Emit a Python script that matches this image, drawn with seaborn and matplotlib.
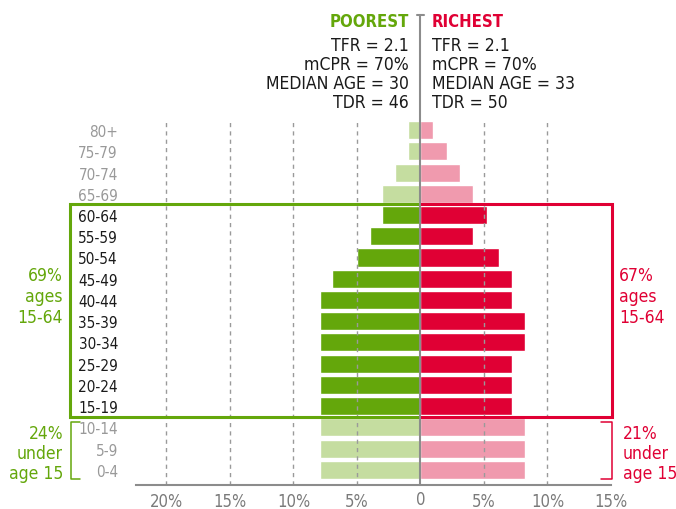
import matplotlib
matplotlib.use("Agg")
import matplotlib.pyplot as plt
import seaborn as sns
import pandas as pd

ages = ["80+", "75-79", "70-74", "65-69", "60-64", "55-59", "50-54", "45-49", "40-44",
        "35-39", "30-34", "25-29", "20-24", "15-19", "10-14", "5-9", "0-4"]
poorest = [1.0, 1.0, 2.0, 3.0, 3.0, 4.0, 5.0, 7.0, 7.9, 7.9, 7.9, 7.9, 7.9, 7.9, 7.9, 7.9, 7.9]
richest = [1.0, 2.1, 3.1, 4.1, 5.2, 4.1, 6.2, 7.2, 7.2, 8.2, 8.2, 7.2, 7.2, 7.2, 8.2, 8.2, 8.2]
faded = ["80+", "75-79", "70-74", "65-69", "10-14", "5-9", "0-4"]

x_ticks = [-20, -15, -10, -5, 0, 5, 10, 15]
x_labels = ["20%", "15%", "10%", "5%", "", "5%", "10%", "15%"]

poor_stats = ["TFR = 2.1", "mCPR = 70%", "MEDIAN AGE = 30", "TDR = 46"]
rich_stats = ["TFR = 2.1", "mCPR = 70%", "MEDIAN AGE = 33", "TDR = 50"]

GREEN, GREEN_L = "#64a70b", "#c5dda0"
RED, RED_L = "#e00034", "#f09aae"
GREY = "#8c8c8c"

sns.set_style("white")
plt.rcParams["font.family"] = ["DejaVu Sans"]
plt.rcParams["font.stretch"] = "condensed"

df = pd.DataFrame({"age": ages, "poorest": [-v for v in poorest], "richest": richest})
pal_p = {a: (GREEN_L if a in faded else GREEN) for a in ages}
pal_r = {a: (RED_L if a in faded else RED) for a in ages}

W, H = 676, 510
fig = plt.figure(figsize=(W / 100, H / 100), dpi=100)
ax = fig.add_axes([136 / W, 24 / H, 475 / W, 366 / H])

sns.barplot(data=df, x="poorest", y="age", hue="age", palette=pal_p, order=ages,
            orient="h", width=0.85, legend=False, ax=ax, saturation=1)
sns.barplot(data=df, x="richest", y="age", hue="age", palette=pal_r, order=ages,
            orient="h", width=0.85, legend=False, ax=ax, saturation=1)

ax.set_xlim(-22.4, 15.0)
ax.set_ylim(16.71, -0.52)
ax.set_xlabel("")
ax.set_ylabel("")

# dashed verticals
for xv in [-20, -15, -10, -5, 5, 10]:
    ax.axvline(xv, color="#9a9a9a", lw=1, ls=(0, (3, 3)), zorder=2.5)

for s in ["top", "left", "right"]:
    ax.spines[s].set_visible(False)
ax.spines["bottom"].set_color(GREY)
ax.spines["bottom"].set_linewidth(1.5)

ax.set_xticks(x_ticks)
ax.set_xticklabels(x_labels)
ax.tick_params(axis="x", length=0, pad=5, labelsize=12, labelcolor="#7a7a7a")
ax.tick_params(axis="y", length=0, pad=13, labelsize=11)
for lbl in ax.get_yticklabels():
    lbl.set_color("#999999" if lbl.get_text() in faded else "#1a1a1a")
    lbl.set_ha("right")

# centre line with cap
ax.plot([0, 0], [16.71, -5.41], color=GREY, lw=1.5, clip_on=False, zorder=4)
ax.plot([-0.3, 0.3], [-5.41, -5.41], color=GREY, lw=1.5, clip_on=False, zorder=4)

# working-age boxes
ax.plot([0, -27.6, -27.6, 0], [3.5, 3.5, 13.5, 13.5], color=GREEN, lw=2.2,
        clip_on=False, zorder=3, solid_joinstyle="miter")
ax.plot([0, 15.1, 15.1, 0], [3.5, 3.5, 13.5, 13.5], color=RED, lw=2.2,
        clip_on=False, zorder=3, solid_joinstyle="miter")

# under-15 brackets
ax.plot([-26.8, -27.5, -27.5, -26.8], [13.75, 13.75, 16.42, 16.42], color=GREEN, lw=1.1,
        clip_on=False)
ax.plot([14.2, 15.05, 15.05, 14.2], [13.75, 13.75, 16.42, 16.42], color=RED, lw=1.1,
        clip_on=False)


def fx(px):
    return px / W


def fy(py):
    return 1 - py / H


fig.text(fx(420.5), 0.002, "0", ha="center", va="bottom", fontsize=12, color="#7a7a7a")

fig.text(fx(63), fy(297), "69%\nages\n15-64", ha="right", va="center", color=GREEN,
         fontsize=12.5, linespacing=1.2)
fig.text(fx(63), fy(454), "24%\nunder\nage 15", ha="right", va="center", color=GREEN,
         fontsize=12.5, linespacing=1.15)
fig.text(fx(619), fy(297), "67%\nages\n15-64", ha="left", va="center", color=RED,
         fontsize=12.5, linespacing=1.2)
fig.text(fx(623), fy(454), "21%\nunder\nage 15", ha="left", va="center", color=RED,
         fontsize=12.5, linespacing=1.15)

fig.text(fx(409), fy(22), "POOREST", ha="right", va="center", color=GREEN,
         fontsize=12, fontweight="bold")
fig.text(fx(432), fy(22), "RICHEST", ha="left", va="center", color=RED,
         fontsize=12, fontweight="bold")
for i, (p, r) in enumerate(zip(poor_stats, rich_stats)):
    y = 46 + 19 * i
    fig.text(fx(409), fy(y), p, ha="right", va="center", color="#1a1a1a", fontsize=12.6)
    fig.text(fx(432), fy(y), r, ha="left", va="center", color="#1a1a1a", fontsize=12.6)

fig.savefig("out.png", dpi=100)
